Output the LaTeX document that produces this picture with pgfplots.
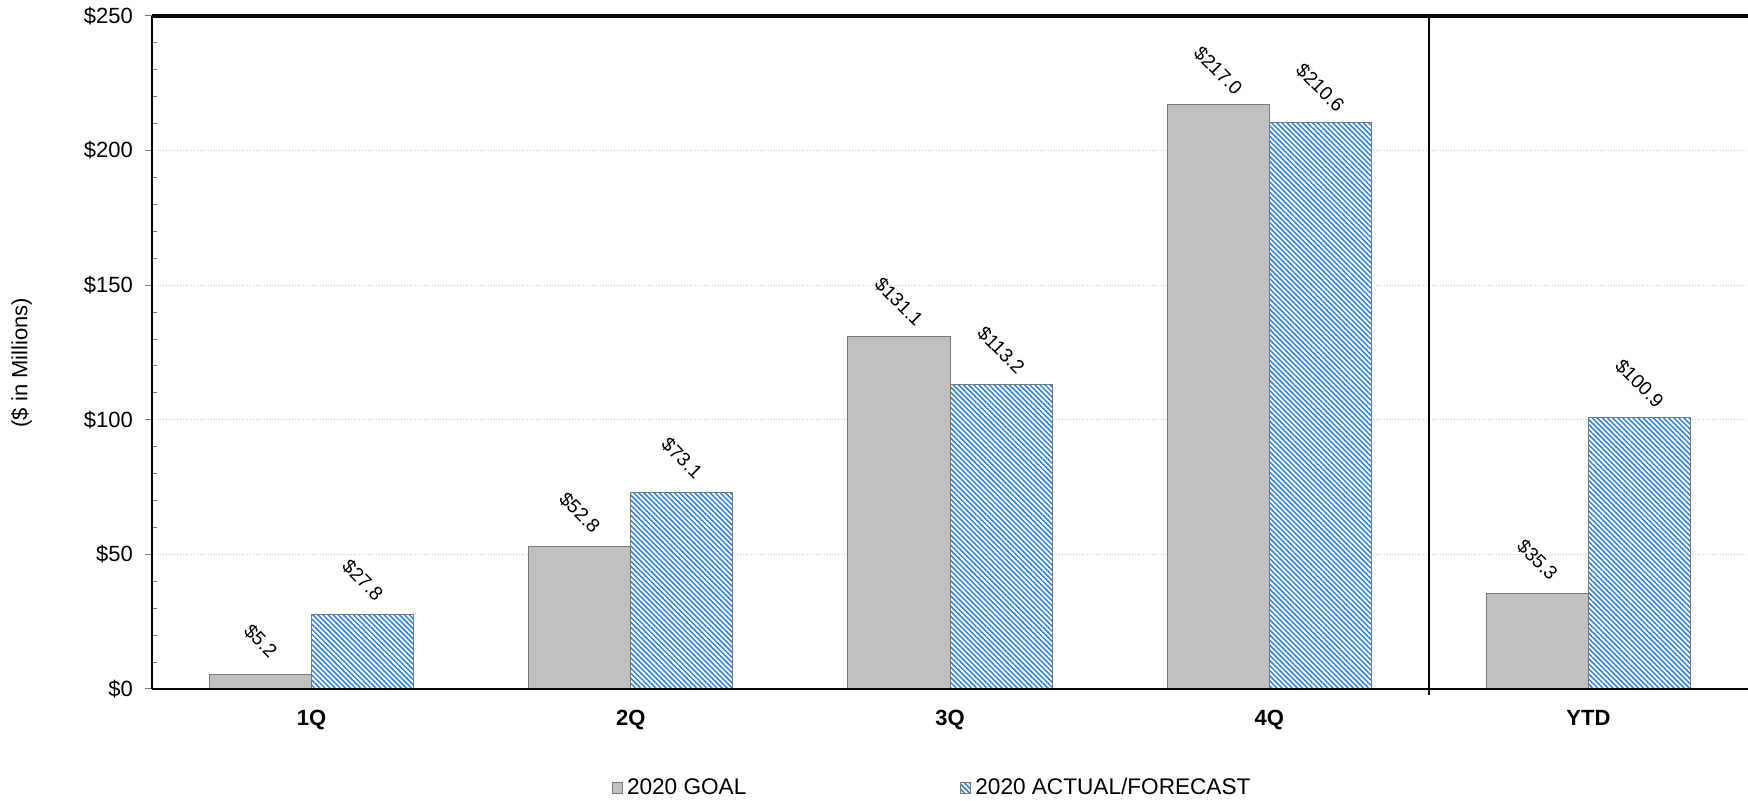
\documentclass[border=0pt]{standalone}
\usepackage{fontspec}
\setmainfont{Liberation Sans}
\usepackage{pgfplots}
\pgfplotsset{compat=1.18}
\usetikzlibrary{patterns.meta}

\definecolor{goalgray}{RGB}{192,192,192}
\definecolor{edgegray}{RGB}{120,120,120}
\definecolor{hatchblue}{RGB}{40,130,230}
\definecolor{gridgray}{RGB}{200,200,200}

\pgfplotstableread{
x goal actual
0 5.2   27.8
1 52.8  73.1
2 131.1 113.2
3 217.0 210.6
4 35.3  100.9
}\quarters

\begin{document}
\begin{tikzpicture}[font=\fontsize{11}{13}\selectfont]
\useasboundingbox (-76pt,-56pt) rectangle (798pt,344.5pt);
\begin{axis}[
  at={(0,0)}, anchor=south west,
  scale only axis,
  width=798pt, height=336.5pt,
  xmin=-0.5, xmax=4.5,
  ymin=0, ymax=250,
  /pgf/number format/assume math mode=true,
  axis line style={draw=none},
  clip=false,
  ybar=0pt,
  bar width=0.32,
  xtick={0,1,2,3,4},
  xticklabels={1Q,2Q,3Q,4Q,YTD},
  xticklabel style={font=\fontsize{11}{13}\selectfont\bfseries, yshift=-3.4pt},
  major x tick style={draw=none},
  ytick={0,50,100,150,200,250},
  yticklabels={\$0,\$50,\$100,\$150,\$200,\$250},
  ytick pos=left,
  minor y tick num=4,
  tick align=outside,
  major tick length=3.5pt,
  minor tick length=2.5pt,
  major y tick style={edgegray, line width=0.5pt},
  minor y tick style={edgegray, line width=0.5pt, xshift=2.5pt},
  yticklabel style={xshift=-2.5pt},
  ymajorgrids,
  major grid style={gridgray, densely dotted, line width=0.5pt},
  ylabel={(\$ in Millions)},
  every axis y label/.style={at={(axis description cs:-0.0817,0.485)}, rotate=90, anchor=center},
  nodes near coords={\$\pgfmathprintnumber[fixed,fixed zerofill,precision=1]{\pgfplotspointmeta}},
  every node near coord/.append style={yshift=17pt, rotate=-45, anchor=center,
    font=\fontsize{9.6}{11}\selectfont, text=black, inner sep=0pt},
  legend columns=2,
  legend style={at={(axis description cs:0.288,-0.147)}, anchor=west, draw=none, fill=none,
    inner sep=0pt, font=\fontsize{11.3}{13}\selectfont,
    /tikz/every even column/.append style={column sep=105pt}},
  legend image code/.code={\path[#1] (0pt,-2.7pt) rectangle (5pt,2.7pt);},
]
\addplot[fill=goalgray, draw=edgegray, line width=0.5pt, bar shift=-0.16]
  table[x=x, y=goal] {\quarters};
\addlegendentry{2020 GOAL}
\addplot[preaction={fill=white},
  pattern={Lines[angle=-45, distance=1.8pt, line width=0.75pt]},
  pattern color=hatchblue, draw=edgegray, line width=0.5pt, bar shift=0.16]
  table[x=x, y=actual] {\quarters};
\addlegendentry{2020 ACTUAL/FORECAST}
% frame: left and bottom spines, heavy top rule, divider before the YTD group
\draw[black, line width=1pt] (rel axis cs:0,0) -- (rel axis cs:0,1);
\draw[black, line width=1pt] (rel axis cs:0,0) -- (rel axis cs:1,0);
\draw[black, line width=1.7pt] (rel axis cs:0,1) -- (rel axis cs:1,1);
\draw[black, line width=0.8pt] (axis cs:3.5,250) -- ([yshift=-3pt]axis cs:3.5,0);
\end{axis}
\end{tikzpicture}
\end{document}
